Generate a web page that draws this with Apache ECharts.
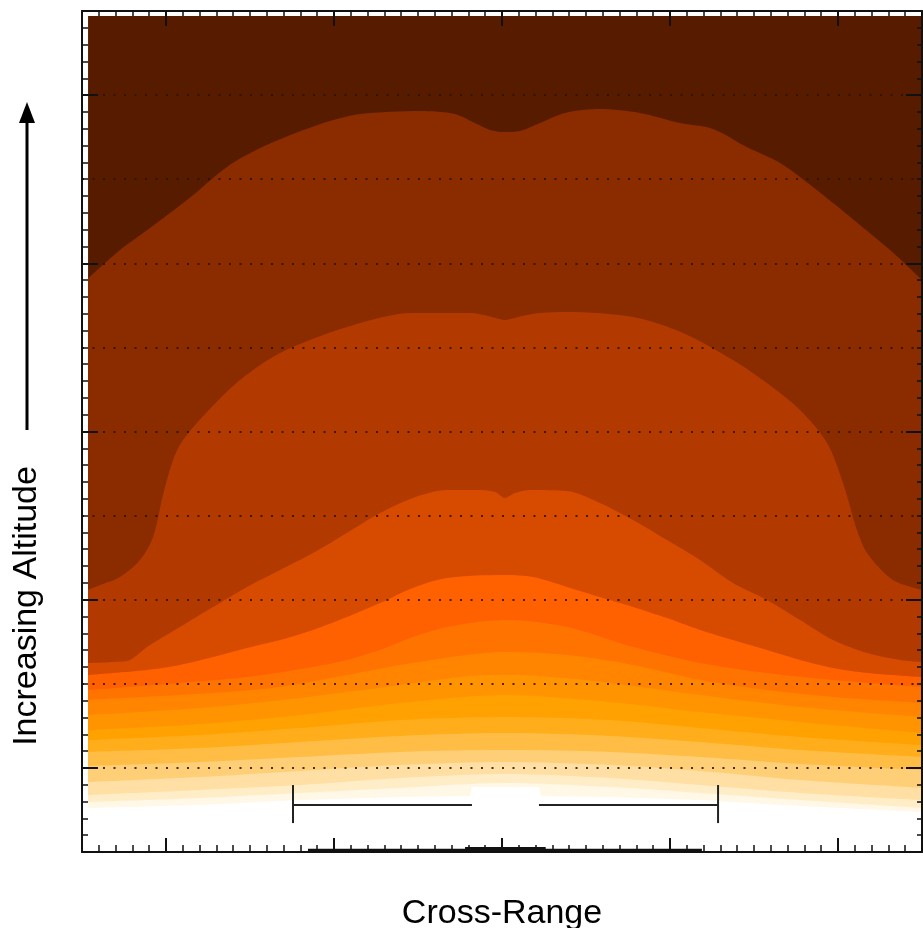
<!DOCTYPE html>
<html><head><meta charset="utf-8">
<script src="https://cdn.jsdelivr.net/npm/echarts@6/dist/echarts.min.js"></script>
<style>html,body{margin:0;padding:0;background:#fff}#c{width:923px;height:928px}</style>
</head><body><div id="c"></div><script>
// Axis ticks (cross-range / altitude grid units)
const majorTicks = [5, 15, 25, 35, 45];

// Filled contour bands: colours from top (darkest) to bottom (white)
const bandColors = ['#571c00','#8a2b00','#b23a00','#d64b00','#ff6100','#ff7400','#ff8500',
  '#ff9400','#ffa100','#ffad1a','#ffbd45','#ffcf78','#ffdfa3','#ffedc8','#fff8e6','#ffffff'];

// Contour boundaries, each [cross-range, altitude]
const topBand = [[0.36,49.7],[50,49.7]];
const contour1 = [[0.36,34.1],[2.26,35.79],[4.05,37.10],[6.25,38.76],[8.63,40.73],[10.60,41.85],[12.56,42.69],[14.76,43.46],[16.55,43.88],[20.12,44.06],[22.20,43.88],[23.39,43.34],[24.29,42.93],[25.18,42.81],[26.07,42.87],[27.26,43.34],[28.75,43.94],[30.83,44.17],[33.21,43.94],[35.60,43.34],[37.56,42.99],[39.58,41.91],[41.55,40.96],[43.51,39.54],[46.31,37.28],[48.10,35.79],[50,34.01]];
const contour2 = [[0.36,15.58],[1.07,15.87],[2.26,16.35],[3.45,17.36],[4.23,18.73],[4.82,21.22],[5.42,23.31],[6.01,24.49],[7.44,26.16],[9.40,28.06],[11.79,29.67],[15.77,31.21],[19.70,32.04],[23.10,32.04],[24.29,31.84],[25.18,31.63],[26.07,31.84],[27.26,32.04],[28.87,32.10],[32.80,31.80],[35.77,30.86],[38.75,29.25],[40.77,27.88],[42.74,26.28],[44.35,24.32],[45.30,21.94],[46.13,19.14],[46.73,17.78],[48.27,16.17],[50,15.58]];
const contour3 = [[0.36,11.24],[1.85,11.30],[2.86,11.42],[3.87,12.19],[5.83,13.38],[7.80,14.57],[9.82,15.76],[11.79,16.77],[13.75,17.78],[15.77,18.97],[17.74,20.15],[19.70,21.05],[21.73,21.52],[23.69,21.52],[24.58,21.40],[25.18,21.05],[25.77,21.34],[26.67,21.52],[28.87,21.46],[30.83,20.75],[32.80,19.74],[34.82,18.55],[36.79,17.36],[38.75,15.99],[40.77,14.98],[42.74,13.79],[44.70,12.60],[46.73,11.83],[48.69,11.42],[50,11.30]];
const contour4 = [[0.36,10.52],[1.85,10.64],[3.87,10.82],[5.83,11.12],[7.80,11.59],[9.82,12.13],[11.79,12.60],[13.75,13.20],[15.77,13.97],[17.74,14.80],[19.70,15.70],[21.73,16.29],[25.18,16.47],[26.85,16.35],[28.87,15.76],[30.83,15.16],[32.80,14.57],[34.82,13.91],[36.79,13.20],[38.75,12.60],[40.77,12.01],[42.74,11.42],[44.70,10.94],[46.73,10.64],[50,10.40]];
const contour5 = [[0.36,9.63],[5.83,10.05],[9.82,10.40],[13.75,11.00],[15.77,11.42],[17.74,12.01],[19.70,12.78],[21.73,13.38],[25.18,13.79],[28.87,13.38],[32.80,12.19],[36.79,11.24],[40.77,10.64],[44.70,10.23],[50,9.81]];
const contour6 = [[0.36,9.04],[7.80,9.45],[11.79,9.81],[15.77,10.52],[19.70,11.24],[25.18,11.89],[28.87,11.71],[32.80,11.12],[36.79,10.23],[40.77,9.63],[44.70,9.22],[50,8.86]];
const contour7 = [[0.36,8.15],[7.02,8.56],[12.98,9.16],[18.93,9.93],[23.10,10.46],[25.18,10.52],[27.26,10.46],[31.43,10.05],[36.79,9.33],[42.74,8.62],[50,8.03]];
const contour8 = [[0.36,7.25],[7.02,7.61],[12.98,8.15],[18.93,8.86],[25.18,9.33],[31.43,8.92],[36.79,8.32],[42.74,7.73],[50,7.07]];
const contour9 = [[0.36,6.66],[7.02,6.96],[12.98,7.37],[18.93,7.85],[25.18,8.03],[31.43,7.85],[36.79,7.37],[42.74,6.84],[50,6.36]];
const contour10 = [[0.36,5.95],[7.02,6.18],[12.98,6.54],[18.93,6.90],[25.18,7.07],[31.43,6.90],[36.79,6.54],[42.74,6.06],[50,5.65]];
const contour11 = [[0.36,5.11],[7.02,5.35],[12.98,5.65],[18.93,5.95],[25.18,6.06],[31.43,5.95],[36.79,5.65],[42.74,5.23],[50,4.88]];
const contour12 = [[0.36,4.16],[7.02,4.46],[12.98,4.82],[18.93,5.17],[25.18,5.35],[31.43,5.17],[36.79,4.82],[42.74,4.28],[50,3.81]];
const contour13 = [[0.36,3.39],[7.02,3.69],[12.98,3.98],[18.93,4.40],[25.18,4.64],[31.43,4.40],[36.79,3.98],[42.74,3.51],[50,3.09]];
const contour14 = [[0.36,2.97],[7.02,3.21],[12.98,3.51],[18.93,3.81],[25.18,4.10],[31.43,3.86],[36.79,3.51],[42.74,3.09],[50,2.62]];
const contour15 = [[0.36,2.62],[7.02,2.79],[12.98,3.09],[18.93,3.27],[23.10,3.33],[23.21,3.86],[27.20,3.86],[27.32,3.33],[31.43,3.27],[36.79,3.09],[42.74,2.73],[50,2.38]];

// Scale bar segments and ground marker
const scaleBarSegments = [
  [[12.56,3.98],[12.56,1.72]],
  [[12.56,2.79],[23.21,2.79]],
  [[27.20,2.79],[37.86,2.79]],
  [[37.86,3.98],[37.86,1.72]]
];
const groundSpan = [[13.45,0.1],[36.9,0.1]];
const groundCore = [[22.8,0.15],[27.6,0.15]];

const contours = [topBand, contour1, contour2, contour3, contour4, contour5, contour6, contour7,
  contour8, contour9, contour10, contour11, contour12, contour13, contour14, contour15];

const chart = echarts.init(document.getElementById('c'), null, {renderer: 'canvas'});
const FONT = '"Liberation Sans", Arial, sans-serif';
const AX = '#111';

function axis(position, opts) {
  return {
    type: 'value', min: 0, max: 50, interval: opts.interval || 1, position: position,
    axisLine: {show: !!opts.line, onZero: false, lineStyle: {color: AX, width: 2}},
    axisTick: opts.tick ? Object.assign({show: true, inside: true, lineStyle: {color: AX, width: opts.tickWidth || 1.5}}, opts.tick) : {show: false},
    axisLabel: {show: false},
    splitLine: opts.split ? {show: true, lineStyle: opts.split} : {show: false},
    z: 10
  };
}

const dotStyle = {color: '#2a1206', width: 2.2, type: [2, 8.5], opacity: 0.85};

const series = contours.map((d, i) => ({
  type: 'line', data: d, symbol: 'none', silent: true,
  smooth: i === contours.length - 1 ? false : 0.3,
  lineStyle: {width: 0, opacity: 0},
  areaStyle: {color: bandColors[i], opacity: 1, origin: 'start'},
  z: 2
}));
scaleBarSegments.forEach(seg => series.push({
  type: 'line', data: seg, symbol: 'none', silent: true, z: 5,
  lineStyle: {color: '#222', width: 2}
}));
series.push({type: 'line', data: groundSpan, symbol: 'none', silent: true, z: 11, clip: false,
  lineStyle: {color: '#111', width: 3}});
series.push({type: 'line', data: groundCore, symbol: 'none', silent: true, z: 11, clip: false,
  lineStyle: {color: '#111', width: 5}});

const xBottom = axis('bottom', {line: true, tick: {length: 7}});
xBottom.name = 'Cross-Range';
xBottom.nameLocation = 'middle';
xBottom.nameGap = 45;
xBottom.nameTextStyle = {fontSize: 34, fontFamily: FONT, color: '#000'};

chart.setOption({
  animation: false,
  backgroundColor: '#fff',
  grid: {left: 82, top: 11, width: 840, height: 841, containLabel: false, outerBoundsMode: 'none'},
  xAxis: [
    xBottom,
    axis('bottom', {interval: 5, tick: {length: 14, customValues: majorTicks}, tickWidth: 2}),
    axis('top', {line: true, tick: {length: 5}}),
    axis('top', {interval: 5, tick: {length: 15, customValues: majorTicks}, tickWidth: 2})
  ],
  yAxis: [
    axis('left', {line: true, tick: {length: 6}}),
    axis('left', {interval: 5, tick: {length: 16, customValues: majorTicks}, tickWidth: 2}),
    axis('right', {line: true, tick: {length: 5}}),
    axis('right', {interval: 5, tick: {length: 16, customValues: majorTicks}, tickWidth: 2}),
    axis('left', {interval: 5, split: dotStyle})
  ],
  graphic: [
    {type: 'text', x: 27, y: 606, rotation: Math.PI / 2,
      style: {text: 'Increasing Altitude', font: '34px ' + FONT, fill: '#000',
        align: 'center', verticalAlign: 'middle'}},
    {type: 'line', shape: {x1: 27, y1: 430, x2: 27, y2: 118}, style: {stroke: '#000', lineWidth: 3}},
    {type: 'polygon', shape: {points: [[27, 102], [19, 123], [35, 123]]}, style: {fill: '#000'}}
  ],
  series: series
});
</script></body></html>
